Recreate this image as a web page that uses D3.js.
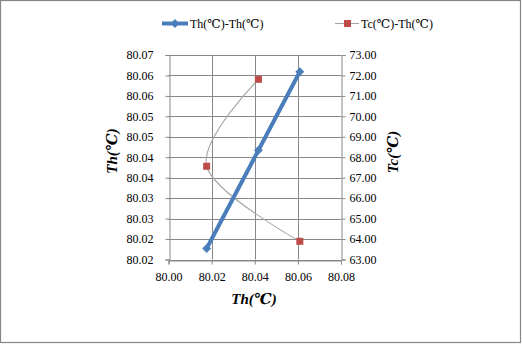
<!DOCTYPE html>
<html><head><meta charset="utf-8">
<script src="https://cdn.jsdelivr.net/npm/d3@7"></script>
<style>body{margin:0;background:#fff}svg{display:block} svg text{font-family:"Liberation Serif","Times New Roman",Tinos,"DejaVu Serif",serif !important;}</style>
</head><body>
<svg id="c" width="522" height="344"></svg>
<script>
// data (in sheet row order)
const thValues = [80.0417, 80.0177, 80.0609];   // Th(℃), x and left y
const tcValues = [71.81, 67.56, 63.89];         // Tc(℃), right y
const seriesNames = ["Th(℃)-Th(℃)", "Tc(℃)-Th(℃)"];
const xTicks = [80.00, 80.02, 80.04, 80.06, 80.08];
const leftTicks = [80.015, 80.02, 80.025, 80.03, 80.035, 80.04, 80.045, 80.05, 80.055, 80.06, 80.065];
const leftTickLabels = ["80.02","80.02","80.03","80.03","80.04","80.04","80.05","80.05","80.06","80.06","80.07"];
const rightTicks = [63,64,65,66,67,68,69,70,71,72,73];

const svg = d3.select("#c");
const gridC = "#878787";
const L = 168.5, R = 341, T = 55, B = 259.5;

const x = d3.scaleLinear().domain([80.00, 80.08]).range([L, R]);
const yL = d3.scaleLinear().domain([80.015, 80.065]).range([B, T]);
const yR = d3.scaleLinear().domain([63, 73]).range([B, T]);

// outer border
svg.append("rect").attr("x",0.5).attr("y",0.5).attr("width",520).attr("height",342)
  .attr("fill","#fff").attr("stroke","#868686").attr("stroke-width",1.2);

// gridlines
const g = svg.append("g");
g.selectAll("line.h").data(rightTicks).join("line")
  .attr("x1",L).attr("x2",R).attr("y1",d=>Math.round(yR(d))+0.5).attr("y2",d=>Math.round(yR(d))+0.5)
  .attr("stroke",gridC).attr("stroke-width",1);
g.selectAll("line.v").data(xTicks.slice(1,4)).join("line")
  .attr("y1",T).attr("y2",B).attr("x1",d=>Math.round(x(d))+0.5).attr("x2",d=>Math.round(x(d))+0.5)
  .attr("stroke",gridC).attr("stroke-width",1);

function styleAxis(sel){
  sel.attr("font-family",null);
  sel.select(".domain").attr("stroke",gridC);
  sel.selectAll(".tick line").attr("stroke",gridC);
  sel.selectAll("text").style("font-size","12px").attr("fill","#000");
}
// left axis
const ax1 = svg.append("g").attr("transform",`translate(${Math.round(L)+0.5},0)`)
  .call(d3.axisLeft(yL).tickValues(leftTicks).tickFormat((d,i)=>leftTickLabels[i]).tickSizeOuter(0).tickSize(4).tickPadding(12));
styleAxis(ax1);
// right axis
const ax2 = svg.append("g").attr("transform",`translate(${Math.round(R)+0.5},0)`)
  .call(d3.axisRight(yR).tickValues(rightTicks).tickFormat(d3.format(".2f")).tickSizeOuter(0).tickSize(4).tickPadding(4));
styleAxis(ax2);
// bottom axis
const ax3 = svg.append("g").attr("transform",`translate(0,${Math.round(B)+0.5})`)
  .call(d3.axisBottom(x).tickValues(xTicks).tickFormat(d3.format(".2f")).tickSizeOuter(0).tickSize(4).tickPadding(8));
styleAxis(ax3);

// axis titles
const tstyle = s => s.style("font-size","15px").style("font-weight","bold")
  .style("font-style","italic").attr("text-anchor","middle").attr("dominant-baseline","central");
svg.append("text").attr("transform","translate(112,151) rotate(-90)").text("Th(℃)").call(tstyle);
svg.append("text").attr("transform","translate(393,152) rotate(-90)").text("Tc(℃)").call(tstyle);
svg.append("text").attr("x",254).attr("y",299).text("Th(℃)").call(tstyle);

// series data
const pts = thValues.map((t,i)=>({th:t, tc:tcValues[i]}));
const blueC = "#4A7EBB", redC = "#BE4B48";

// Tc-Th smooth
svg.append("path").datum(pts)
  .attr("d", d3.line().x(d=>x(d.th)).y(d=>yR(d.tc)).curve(d3.curveCardinal.tension(0)))
  .attr("fill","none").attr("stroke","#a6a6a6").attr("stroke-width",1.1);

// Th-Th line
const sorted = pts.slice().sort((a,b)=>a.th-b.th);
svg.append("path").datum(sorted)
  .attr("d", d3.line().x(d=>x(d.th)).y(d=>yL(d.th)))
  .attr("fill","none").attr("stroke",blueC).attr("stroke-width",4).attr("stroke-linecap","round");

const diamond = d3.symbol().type(d3.symbolDiamond2).size(50);
svg.selectAll("path.dm").data(pts).join("path")
  .attr("transform",d=>`translate(${x(d.th)},${yL(d.th)})`).attr("d",diamond).attr("fill",blueC);

svg.selectAll("rect.sq").data(pts).join("rect")
  .attr("x",d=>x(d.th)-3.5).attr("y",d=>yR(d.tc)-3.5).attr("width",7).attr("height",7).attr("fill",redC);

// legend
const lg = svg.append("g");
lg.append("line").attr("x1",162).attr("x2",188).attr("y1",23.5).attr("y2",23.5).attr("stroke",blueC).attr("stroke-width",4);
lg.append("path").attr("transform","translate(175,23.5)").attr("d",diamond).attr("fill",blueC);
lg.append("text").attr("x",190).attr("y",24).attr("dominant-baseline","central").style("font-size","12px").text(seriesNames[0]);
lg.append("line").attr("x1",335).attr("x2",359).attr("y1",23.5).attr("y2",23.5).attr("stroke","#a6a6a6").attr("stroke-width",1.1);
lg.append("rect").attr("x",344).attr("y",20).attr("width",7).attr("height",7).attr("fill",redC);
lg.append("text").attr("x",361).attr("y",24).attr("dominant-baseline","central").style("font-size","12px").text(seriesNames[1]);
</script>
</body></html>
